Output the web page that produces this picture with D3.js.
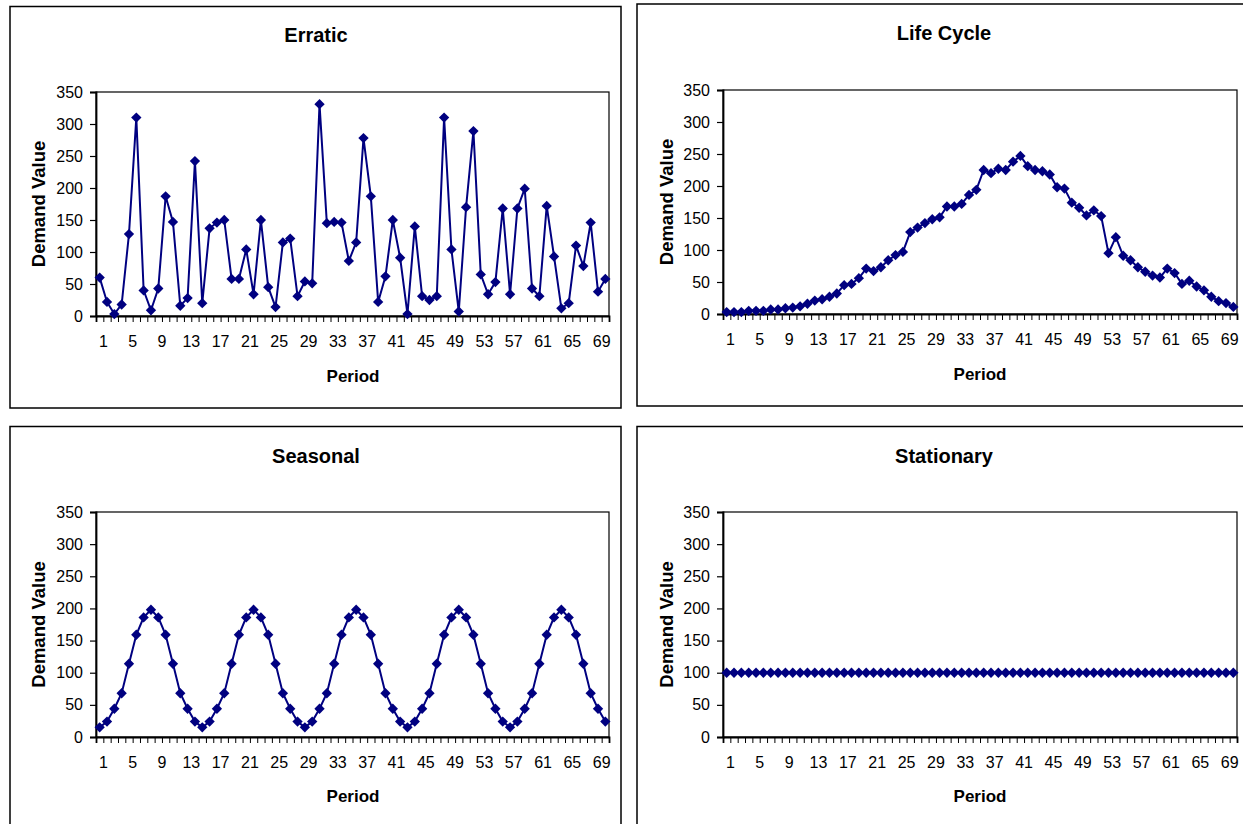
<!DOCTYPE html>
<html>
<head>
<meta charset="utf-8">
<script src="https://cdn.jsdelivr.net/npm/d3@7/dist/d3.min.js"></script>
<style>
  html, body { margin: 0; padding: 0; background: #fff; }
  svg { display: block; }
  text { font-family: Arial, "Liberation Sans", sans-serif; fill: #000; }
</style>
</head>
<body>
<svg id="chart" width="1243" height="824"></svg>
<script>
// Demand patterns over 70 periods
const periods = d3.range(1, 71);
const periodTickLabels = ["1","5","9","13","17","21","25","29","33","37","41","45","49","53","57","61","65","69"];
const demandTicks = [0, 50, 100, 150, 200, 250, 300, 350];

const erratic = [60, 22, 3, 18, 128, 310, 40, 9, 43, 187, 147, 16, 28, 242, 20, 137, 146, 150, 58, 58,
  104, 34, 150, 45, 14, 115, 121, 31, 54, 51, 331, 145, 147, 146, 86, 115, 278, 187, 22, 62,
  150, 91, 3, 140, 31, 25, 31, 310, 104, 7, 170, 289, 65, 34, 53, 168, 34, 168, 199, 43,
  31, 172, 93, 12, 20, 110, 78, 146, 38, 58];

const lifeCycle = [3, 3, 3, 5, 5, 5, 7, 7, 9, 10, 12, 16, 21, 23, 27, 32, 45, 47, 56, 71,
  67, 73, 84, 92, 97, 128, 135, 142, 148, 151, 168, 168, 172, 186, 194, 225, 220, 227, 225, 238,
  247, 231, 225, 223, 218, 198, 196, 174, 166, 154, 162, 153, 95, 120, 91, 84, 73, 66, 60, 57,
  71, 64, 47, 52, 43, 37, 27, 20, 17, 11];

const seasonal = [15, 24, 44, 68, 114, 159, 186, 198, 186, 159, 114, 68, 44, 24,
  15, 24, 44, 68, 114, 159, 186, 198, 186, 159, 114, 68, 44, 24,
  15, 24, 44, 68, 114, 159, 186, 198, 186, 159, 114, 68, 44, 24,
  15, 24, 44, 68, 114, 159, 186, 198, 186, 159, 114, 68, 44, 24,
  15, 24, 44, 68, 114, 159, 186, 198, 186, 159, 114, 68, 44, 24];

const stationary = [100, 100, 100, 100, 100, 100, 100, 100, 100, 100, 100, 100, 100, 100,
  100, 100, 100, 100, 100, 100, 100, 100, 100, 100, 100, 100, 100, 100,
  100, 100, 100, 100, 100, 100, 100, 100, 100, 100, 100, 100, 100, 100,
  100, 100, 100, 100, 100, 100, 100, 100, 100, 100, 100, 100, 100, 100,
  100, 100, 100, 100, 100, 100, 100, 100, 100, 100, 100, 100, 100, 100];

const titles = ["Erratic", "Life Cycle", "Seasonal", "Stationary"];
const xTitle = "Period";
const yTitle = "Demand Value";

// Panel layout (frame box, plot box, label anchors)
const panels = [
  { title: titles[0], values: erratic,
    frame: { x: 10, y: 6.5, w: 611, h: 401.5 },
    plot: { l: 96, t: 92, r: 609, b: 316 },
    titleAt: [316, 42], yTitleAt: [45, 204], xTitleAt: [353, 382] },
  { title: titles[1], values: lifeCycle,
    frame: { x: 637, y: 4, w: 640, h: 402 },
    plot: { l: 723, t: 90, r: 1237, b: 314 },
    titleAt: [944, 40], yTitleAt: [673, 202], xTitleAt: [980, 380] },
  { title: titles[2], values: seasonal,
    frame: { x: 10, y: 426.5, w: 611, h: 420 },
    plot: { l: 96, t: 512, r: 609, b: 737 },
    titleAt: [316, 463], yTitleAt: [45, 624.5], xTitleAt: [353, 802] },
  { title: titles[3], values: stationary,
    frame: { x: 637, y: 426.5, w: 640, h: 420 },
    plot: { l: 723, t: 512, r: 1237, b: 737 },
    titleAt: [944, 463], yTitleAt: [673, 624.5], xTitleAt: [980, 802] }
];

const NAVY = "#000080";
const svg = d3.select("#chart");

panels.forEach(p => {
  const g = svg.append("g");

  // chart frame
  g.append("rect")
    .attr("x", p.frame.x).attr("y", p.frame.y)
    .attr("width", p.frame.w).attr("height", p.frame.h)
    .attr("fill", "#fff").attr("stroke", "#000").attr("stroke-width", 1.5);

  const x = d3.scaleBand().domain(periods).range([p.plot.l, p.plot.r]).paddingInner(0).paddingOuter(0);
  const xEdges = d3.scaleLinear().domain([0, periods.length]).range([p.plot.l, p.plot.r]);
  const y = d3.scaleLinear().domain([0, 350]).range([p.plot.b, p.plot.t]);
  const cx = d => x(d) + x.bandwidth() / 2;

  // plot area border
  g.append("rect")
    .attr("x", p.plot.l).attr("y", p.plot.t)
    .attr("width", p.plot.r - p.plot.l).attr("height", p.plot.b - p.plot.t)
    .attr("fill", "#fff").attr("stroke", "#000").attr("stroke-width", 1.2);

  // y axis
  const yAxis = g.append("g")
    .attr("transform", `translate(${p.plot.l},0)`)
    .call(d3.axisLeft(y).tickValues(demandTicks).tickSize(6).tickPadding(7).tickFormat(d3.format("d")));
  yAxis.select(".domain").attr("stroke", "#000").attr("stroke-width", 1.8);
  yAxis.selectAll(".tick line").attr("stroke", "#000").attr("stroke-width", 1.2);
  yAxis.selectAll("text").attr("font-size", 16).attr("fill", "#000")
    .style("font-family", "Arial, 'Liberation Sans', sans-serif");

  // x axis: tick marks between categories
  const xTicks = g.append("g")
    .attr("transform", `translate(0,${p.plot.b})`)
    .call(d3.axisBottom(xEdges).tickValues(d3.range(0, periods.length + 1)).tickSize(6).tickFormat(""));
  xTicks.select(".domain").attr("stroke", "#000").attr("stroke-width", 1.8);
  xTicks.selectAll(".tick line").attr("stroke", "#000").attr("stroke-width", 1);

  // x axis labels, every fourth period
  const xLabels = g.append("g")
    .attr("transform", `translate(${x.bandwidth() / 2},${p.plot.b})`)
    .call(d3.axisBottom(x).tickValues(periodTickLabels.map(Number)).tickSize(0).tickPadding(20));
  xLabels.select(".domain").remove();
  xLabels.selectAll("text").attr("font-size", 16).attr("fill", "#000")
    .style("font-family", "Arial, 'Liberation Sans', sans-serif");

  // series line
  const line = d3.line().x((d, i) => cx(periods[i])).y(d => y(d));
  g.append("path")
    .datum(p.values)
    .attr("d", line)
    .attr("fill", "none").attr("stroke", NAVY).attr("stroke-width", 2);

  // diamond markers
  const diamond = d3.symbol().type(d3.symbolDiamond2).size(68);
  g.append("g").selectAll("path")
    .data(p.values)
    .join("path")
    .attr("d", diamond)
    .attr("transform", (d, i) => `translate(${cx(periods[i])},${y(d)})`)
    .attr("fill", NAVY);

  // titles
  g.append("text")
    .attr("x", p.titleAt[0]).attr("y", p.titleAt[1])
    .attr("text-anchor", "middle").attr("font-weight", "bold").attr("font-size", 20)
    .text(p.title);
  g.append("text")
    .attr("x", p.xTitleAt[0]).attr("y", p.xTitleAt[1])
    .attr("text-anchor", "middle").attr("font-weight", "bold").attr("font-size", 17)
    .text(xTitle);
  g.append("text")
    .attr("transform", `translate(${p.yTitleAt[0]},${p.yTitleAt[1]}) rotate(-90)`)
    .attr("text-anchor", "middle").attr("font-weight", "bold").attr("font-size", 18.5)
    .text(yTitle);
});
</script>
</body>
</html>
